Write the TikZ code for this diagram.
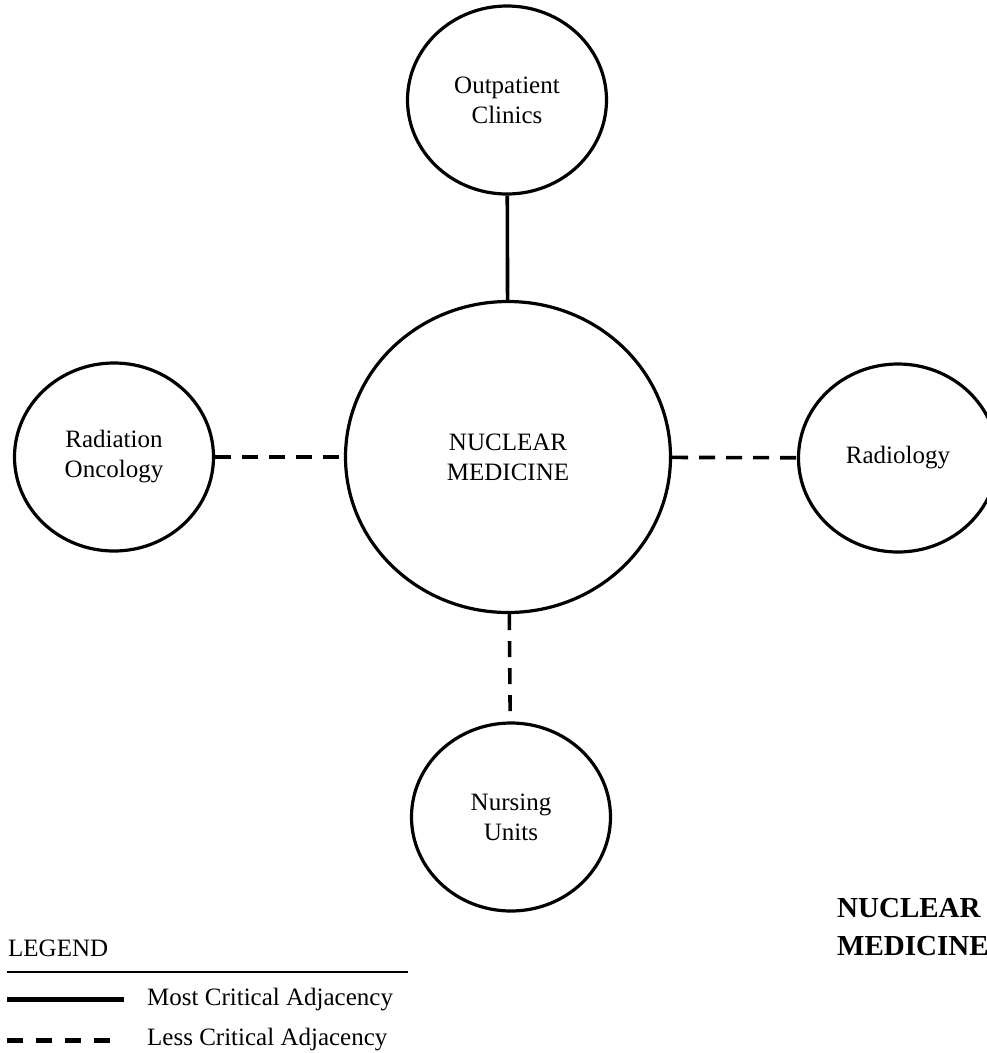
\documentclass[tikz,border=0pt]{standalone}
\usepackage{fontspec}
\setmainfont{Liberation Serif}
\usetikzlibrary{shapes.geometric}
\begin{document}
\begin{tikzpicture}[x=1pt,y=-1pt,
  dept/.style={ellipse, draw, line width=3.2pt, inner sep=0pt, align=center,
    minimum width=199pt, minimum height=188pt,
    font=\fontsize{25}{30}\selectfont},
  core/.style={dept, minimum width=325pt, minimum height=311pt},
  most/.style={line width=3.6pt},
  less/.style={line width=3.6pt, dash pattern=on 16pt off 11pt},
  lbl/.style={anchor=west, inner sep=0pt, font=\fontsize{25}{30}\selectfont}]
\useasboundingbox (0,0) rectangle (987,1053);
\node[core] (nm) at (508,457) {NUCLEAR\\MEDICINE};
\node[dept] (op) at (507,100) {Outpatient\\Clinics};
\node[dept] (ro) at (114,457) {Radiation\\Oncology};
\node[dept] (rd) at (898,458) {Radiology};
\node[dept] (nu) at (511,817) {Nursing\\Units};
\draw[most] (op) -- (nm);
\draw[less] (ro) -- (nm);
\draw[less] (nm) -- (rd);
\draw[less] (nm) -- (nu);
% title
\node[anchor=west, inner sep=0pt, align=left, font=\bfseries\fontsize{29}{38}\selectfont] (title) at (837,927) {NUCLEAR\\MEDICINE};
% legend
\node[lbl] (lg) at (8,948) {LEGEND};
\coordinate (r1) at (7,972); \coordinate (r2) at (408,972);
\draw[line width=1.3pt] (r1) -- (r2);
\coordinate (s1) at (7,999); \coordinate (s2) at (124,999);
\draw[line width=5pt] (s1) -- (s2);
\node[lbl] (lm) at (147,1000) {Most Critical Adjacency};
\coordinate (d1) at (7,1040); \coordinate (d2) at (112,1040);
\draw[line width=5pt, dash pattern=on 16pt off 13pt] (d1) -- (d2);
\node[lbl] (ll) at (147,1040) {Less Critical Adjacency};
\end{tikzpicture}
\end{document}
